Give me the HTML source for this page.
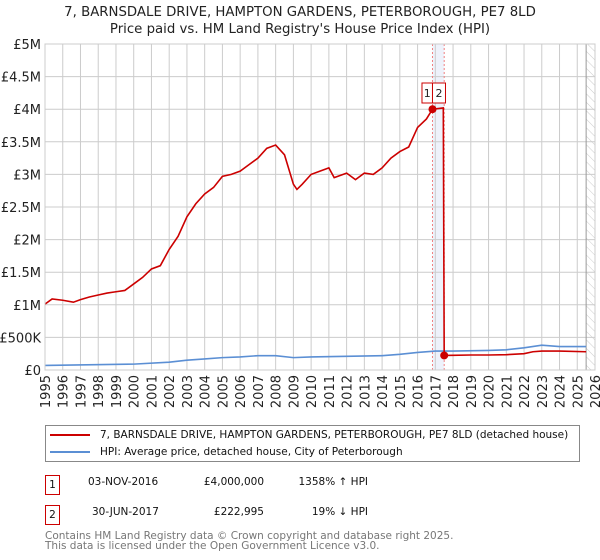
<!DOCTYPE html>
<html><head><meta charset="utf-8"><style>
body{margin:0;background:#fff;font-family:"DejaVu Sans","Liberation Sans",sans-serif;}
#wrap{position:relative;width:600px;height:560px;overflow:hidden}
.t{font-family:"DejaVu Sans","Liberation Sans",sans-serif;font-size:10.5px;color:#111;white-space:nowrap}
</style></head><body>
<div id="wrap">
<svg id="chart" width="600" height="560" xmlns="http://www.w3.org/2000/svg" font-family="DejaVu Sans, Liberation Sans, sans-serif">
<defs><pattern id="hatch" width="6" height="6" patternUnits="userSpaceOnUse" patternTransform="rotate(-45)"><line x1="0" y1="0" x2="0" y2="6" stroke="#ccc" stroke-width="1"/></pattern></defs>
<text x="300" y="16" text-anchor="middle" font-size="13.3" fill="#222">7, BARNSDALE DRIVE, HAMPTON GARDENS, PETERBOROUGH, PE7 8LD</text>
<text x="300" y="33" text-anchor="middle" font-size="13.3" fill="#222">Price paid vs. HM Land Registry's House Price Index (HPI)</text>
<g id="grid"></g><g id="marks"></g><g id="axes"></g>
</svg>
<div class="t" style="position:absolute;left:45px;top:425px;width:533px;height:35px;border:1px solid #888">
 <div style="position:absolute;left:4px;top:3px"><span style="display:inline-block;width:40px;height:2px;background:#cc0000;vertical-align:middle;margin-right:10px"></span>7, BARNSDALE DRIVE, HAMPTON GARDENS, PETERBOROUGH, PE7 8LD (detached house)</div>
 <div style="position:absolute;left:4px;top:20px"><span style="display:inline-block;width:40px;height:2px;background:#5b8fd4;vertical-align:middle;margin-right:10px"></span>HPI: Average price, detached house, City of Peterborough</div>
</div>
<div class="t">
 <div style="position:absolute;left:45px;top:475px;width:13px;height:18px;border:1px solid #cc0000;text-align:center;line-height:18px">1</div>
 <div style="position:absolute;left:88px;top:476px">03-NOV-2016</div>
 <div style="position:absolute;right:336px;top:476px">£4,000,000</div>
 <div style="position:absolute;right:232px;top:476px">1358% ↑ HPI</div>
 <div style="position:absolute;left:45px;top:505px;width:13px;height:18px;border:1px solid #cc0000;text-align:center;line-height:18px">2</div>
 <div style="position:absolute;left:92px;top:506px">30-JUN-2017</div>
 <div style="position:absolute;right:336px;top:506px">£222,995</div>
 <div style="position:absolute;right:232px;top:506px">19% ↓ HPI</div>
</div>
<div class="t" style="position:absolute;left:45px;top:531px;line-height:10px;color:#777">Contains HM Land Registry data © Crown copyright and database right 2025.<br>This data is licensed under the Open Government Licence v3.0.</div>
</div>
<script>
const yearTicks=[1995,1996,1997,1998,1999,2000,2001,2002,2003,2004,2005,2006,2007,2008,2009,2010,2011,2012,2013,2014,2015,2016,2017,2018,2019,2020,2021,2022,2023,2024,2025,2026];
const valueTicks=[0,500000,1000000,1500000,2000000,2500000,3000000,3500000,4000000,4500000,5000000];
const valueTickLabels=["£0","£500K","£1M","£1.5M","£2M","£2.5M","£3M","£3.5M","£4M","£4.5M","£5M"];
const propYears=[1995,1995.4,1996,1996.6,1997,1997.5,1998,1998.5,1999,1999.5,2000,2000.5,2001,2001.5,2002,2002.5,2003,2003.5,2004,2004.5,2005,2005.5,2006,2006.5,2007,2007.5,2008,2008.5,2009,2009.2,2009.5,2010,2010.5,2011,2011.3,2012,2012.5,2013,2013.5,2014,2014.5,2015,2015.5,2016,2016.5,2016.84,2017.45,2017.5,2018,2019,2020,2021,2022,2022.5,2023,2024,2025.5];
const propValues=[1.01,1.09,1.07,1.04,1.08,1.12,1.15,1.18,1.20,1.22,1.32,1.42,1.55,1.60,1.85,2.05,2.35,2.55,2.70,2.80,2.97,3.00,3.05,3.15,3.25,3.40,3.45,3.30,2.85,2.77,2.85,3.00,3.05,3.10,2.95,3.02,2.92,3.02,3.00,3.10,3.25,3.35,3.42,3.72,3.85,4.00,4.02,0.223,0.225,0.23,0.23,0.235,0.25,0.28,0.29,0.29,0.28];
const hpiYears=[1995,2000,2002,2003,2004,2005,2006,2007,2008,2009,2010,2012,2014,2015,2016,2017,2018,2020,2021,2022,2023,2024,2025.5];
const hpiValues=[0.07,0.09,0.12,0.15,0.17,0.19,0.20,0.22,0.22,0.19,0.20,0.21,0.22,0.24,0.27,0.29,0.29,0.30,0.31,0.34,0.38,0.36,0.36];
const saleYears=[2016.84,2017.5];
const saleValues=[4.0,0.223];
const saleLabels=["1","2"];
const NS="http://www.w3.org/2000/svg";
const X0=45,X1=595,Y0=370,Y1=44;
function xs(y){return X0+(y-1995)/(2026-1995)*(X1-X0);}
function ys(v){return Y0-v/5000000*(Y0-Y1);}
function mk(tag,attrs,parent){const e=document.createElementNS(NS,tag);for(const k in attrs)e.setAttribute(k,attrs[k]);parent.appendChild(e);return e;}
const grid=document.getElementById('grid'),marks=document.getElementById('marks'),axes=document.getElementById('axes');
let hb=mk('rect',{x:xs(2025.5),y:Y1,width:X1-xs(2025.5),height:Y0-Y1,fill:'url(#hatch)'},grid);


let band=mk('rect',{x:xs(saleYears[0]),y:Y1,width:xs(saleYears[1])-xs(saleYears[0]),height:Y0-Y1,fill:'#eef2fb'},grid);


valueTicks.forEach((v,i)=>{
 const l=mk('line',{x1:X0,x2:X1,y1:ys(v),y2:ys(v),stroke:'#ccc'},grid);
 
 
 const t=mk('text',{x:X0-4,y:ys(v)+5,'text-anchor':'end','font-size':'13',fill:'#222'},axes);
 t.textContent=valueTickLabels[i];
 
 
});
yearTicks.forEach(yr=>{
 const l=mk('line',{x1:xs(yr),x2:xs(yr),y1:Y1,y2:Y0,stroke:'#ccc'},grid);
 
 
 const t=mk('text',{x:0,y:0,'text-anchor':'end','font-size':'13',fill:'#222',transform:`translate(${xs(yr)+5},${Y0+5}) rotate(-90)`},axes);
 t.textContent=yr;
 
 
});
let hl=mk('line',{x1:xs(2025.5),x2:xs(2025.5),y1:Y1,y2:Y0,stroke:'#999'},grid);


saleYears.forEach(yr=>{
 const l=mk('line',{x1:xs(yr),x2:xs(yr),y1:Y1,y2:Y0,stroke:'#f08080','stroke-dasharray':'2,2'},grid);
 
 
});
const hp=mk('polyline',{points:hpiYears.map((y,i)=>xs(y)+','+ys(hpiValues[i]*1e6)).join(' '),fill:'none',stroke:'#5b8fd4','stroke-width':'1.6'},marks);


const pp=mk('polyline',{points:propYears.map((y,i)=>xs(y)+','+ys(propValues[i]*1e6)).join(' '),fill:'none',stroke:'#cc0000','stroke-width':'1.6'},marks);


saleYears.forEach((yr,i)=>{
 const c=mk('circle',{cx:xs(yr),cy:ys(saleValues[i]*1e6),r:4,fill:'#cc0000'},marks);
 
 
});
saleLabels.forEach((lab,i)=>{
 const bx=xs(saleYears[0])+(i===0?-10.5:0);
 const w=i===0?10.5:13;
 const r=mk('rect',{x:bx,y:Y1+39,width:w,height:20,fill:'#fff',stroke:'#cc0000'},marks);
 
 
 const t=mk('text',{x:bx+w/2,y:Y1+53,'text-anchor':'middle','font-size':'11',fill:'#222'},marks);
 t.textContent=lab;
 
 
});
let fr=mk('rect',{x:X0,y:Y1,width:X1-X0,height:Y0-Y1,fill:'none',stroke:'#ccc'},axes);


</script>
</body></html>
